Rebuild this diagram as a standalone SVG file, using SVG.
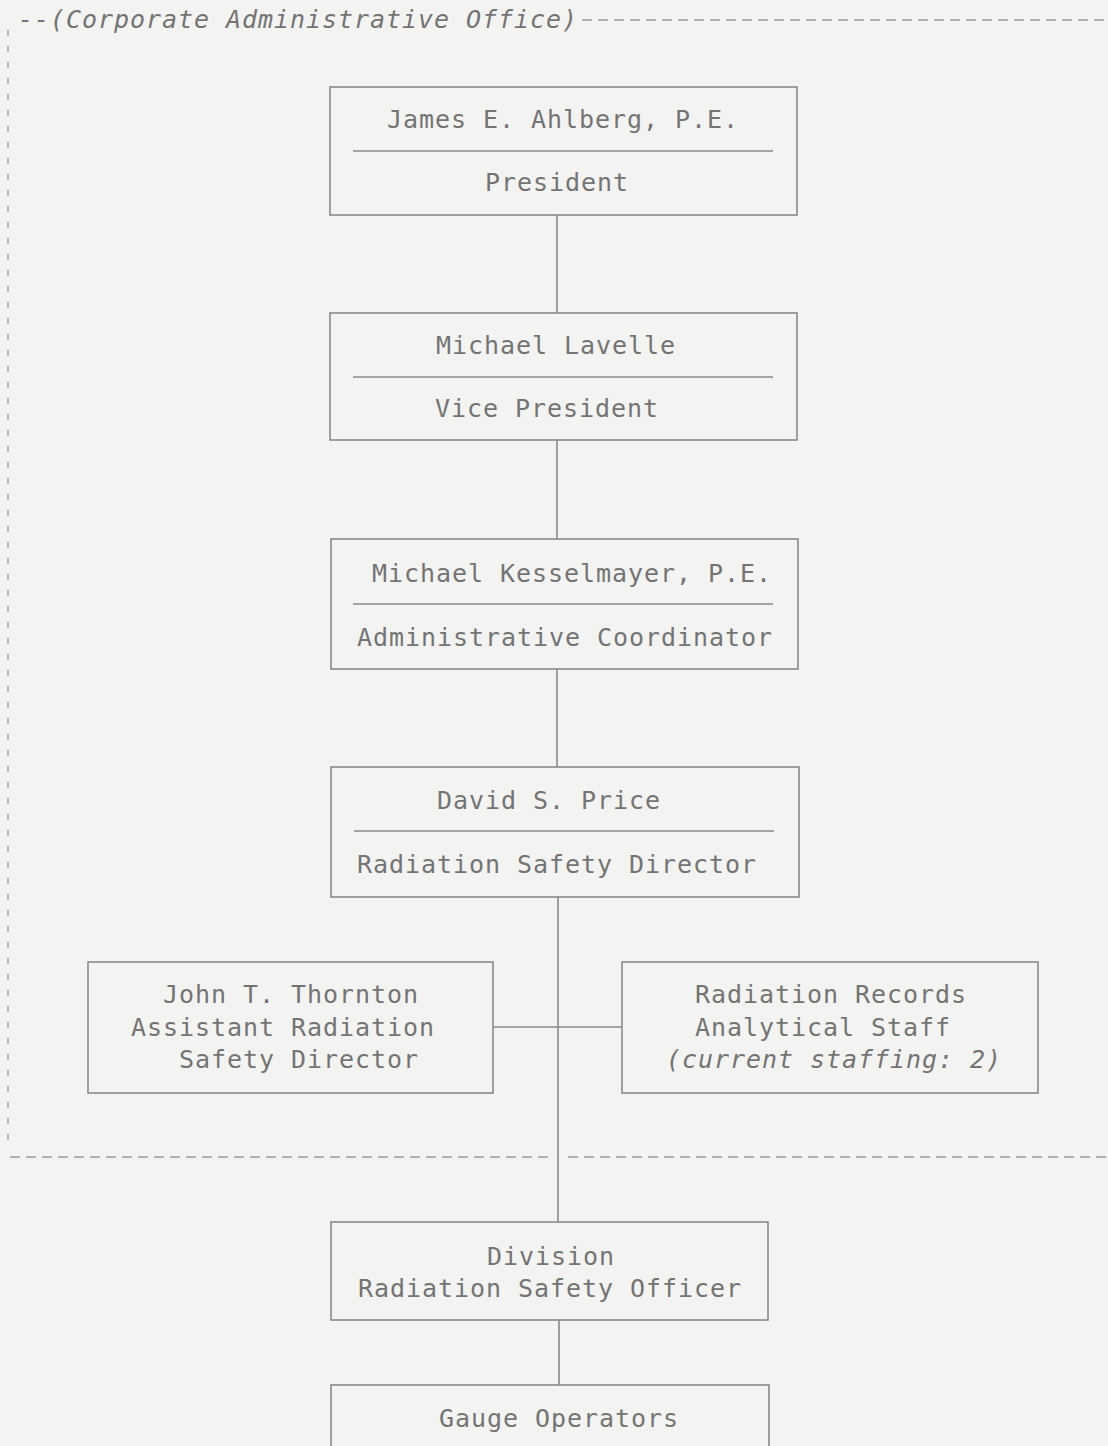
<svg xmlns="http://www.w3.org/2000/svg" width="1108" height="1446" viewBox="0 0 1108 1446">
<style>
  .bg { fill: #f3f3f1; }
  .box { fill: none; stroke: #8a8a8a; stroke-width: 1.6; }
  .div { stroke: #8a8a8a; stroke-width: 1.4; }
  .conn { stroke: #8a8a8a; stroke-width: 1.6; fill: none; }
  .dash { stroke: #9a9a9a; stroke-width: 1.3; stroke-dasharray: 10 6; fill: none; }
  .vdash { stroke: #9a9a9a; stroke-width: 1.3; stroke-dasharray: 6 10; fill: none; }
  text { font-family: "DejaVu Sans Mono", "Liberation Mono", monospace; font-size: 25px; letter-spacing: 0.95px; fill: #747474; text-anchor: middle; }
  .it { font-style: italic; }
  .start { text-anchor: start; }
</style>
<rect class="bg" x="0" y="0" width="1108" height="1446"/>

<g id="region">
  <text class="it start" x="18" y="28">--(Corporate Administrative Office)</text>
  <line class="dash" x1="582" y1="20" x2="1108" y2="20"/>
  <line class="vdash" x1="8" y1="30" x2="8" y2="1150"/>
  <line class="dash" x1="10" y1="1157" x2="548" y2="1157"/>
  <line class="dash" x1="568" y1="1157" x2="1108" y2="1157"/>
</g>

<g id="connectors">
  <line class="conn" x1="557" y1="215" x2="557" y2="313"/>
  <line class="conn" x1="557" y1="440" x2="557" y2="539"/>
  <line class="conn" x1="557" y1="669" x2="557" y2="767"/>
  <line class="conn" x1="558" y1="897" x2="558" y2="1222"/>
  <line class="conn" x1="493" y1="1027" x2="622" y2="1027"/>
  <line class="conn" x1="559" y1="1320" x2="559" y2="1385"/>
</g>

<g id="president">
  <rect class="box" x="330" y="87" width="467" height="128"/>
  <line class="div" x1="353" y1="151" x2="773" y2="151"/>
  <text x="563" y="128">James E. Ahlberg, P.E.</text>
  <text x="557" y="191">President</text>
</g>

<g id="vice-president">
  <rect class="box" x="330" y="313" width="467" height="127"/>
  <line class="div" x1="353" y1="377" x2="773" y2="377"/>
  <text x="556" y="354">Michael Lavelle</text>
  <text x="547" y="417">Vice President</text>
</g>

<g id="admin-coordinator">
  <rect class="box" x="331" y="539" width="467" height="130"/>
  <line class="div" x1="353" y1="604" x2="773" y2="604"/>
  <text x="572" y="582">Michael Kesselmayer, P.E.</text>
  <text x="565" y="646">Administrative Coordinator</text>
</g>

<g id="rsd">
  <rect class="box" x="331" y="767" width="468" height="130"/>
  <line class="div" x1="354" y1="831" x2="774" y2="831"/>
  <text x="549" y="809">David S. Price</text>
  <text x="557" y="873">Radiation Safety Director</text>
</g>

<g id="assistant-rsd">
  <rect class="box" x="88" y="962" width="405" height="131"/>
  <text x="291" y="1003">John T. Thornton</text>
  <text x="283" y="1036">Assistant Radiation</text>
  <text x="299" y="1068">Safety Director</text>
</g>

<g id="records-staff">
  <rect class="box" x="622" y="962" width="416" height="131"/>
  <text x="831" y="1003">Radiation Records</text>
  <text x="823" y="1036">Analytical Staff</text>
  <text class="it" x="834" y="1068">(current staffing: 2)</text>
</g>

<g id="division-rso">
  <rect class="box" x="331" y="1222" width="437" height="98"/>
  <text x="551" y="1265">Division</text>
  <text x="550" y="1297">Radiation Safety Officer</text>
</g>

<g id="gauge-operators">
  <rect class="box" x="331" y="1385" width="438" height="80"/>
  <text x="559" y="1427">Gauge Operators</text>
</g>
</svg>
